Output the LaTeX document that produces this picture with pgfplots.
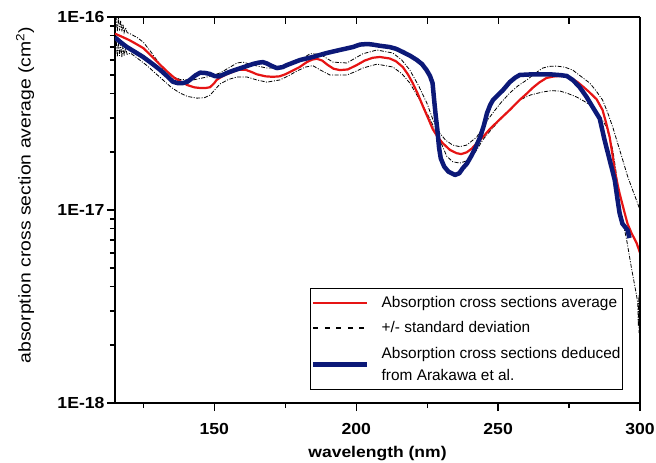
\documentclass[border=0pt]{standalone}
\usepackage{pgfplots}
\pgfplotsset{compat=1.18}
\usepackage{fontspec}
\setmainfont{Liberation Sans}
\newfontfamily\tickfont[FakeStretch=1.1]{Liberation Sans}
\newfontfamily\xlabfont[FakeStretch=1.13]{Liberation Sans}
\newfontfamily\ylabfont[FakeStretch=1.14]{Liberation Sans}
\definecolor{avgred}{RGB}{230,20,20}
\definecolor{arablue}{RGB}{12,25,120}
\begin{document}
\begin{tikzpicture}
\useasboundingbox (-115pt,-60pt) rectangle (541pt,403pt);
\begin{axis}[
  at={(0pt,0pt)}, anchor=south west,
  scale only axis, width=525pt, height=386pt,
  xmin=115, xmax=300, ymode=log, ymin=1e-18, ymax=1e-16,
  axis x line*=bottom, axis y line*=left,
  axis line style={line width=1.6pt},
  tick align=outside,
  major tick length=8pt, minor tick length=5pt,
  every tick/.style={black, line width=1.3pt},
  xtick={150,200,250,300}, xticklabels={150,200,250,300},
  minor xtick={125,175,225,275},
  ytick={1e-18,1e-17,1e-16}, yticklabels={1E-18,1E-17,1E-16},
  minor ytick={2e-18,3e-18,4e-18,5e-18,6e-18,7e-18,8e-18,9e-18,2e-17,3e-17,4e-17,5e-17,6e-17,7e-17,8e-17,9e-17},
  ticklabel style={font=\tickfont\bfseries\fontsize{16}{18}\selectfont},
  xticklabel style={yshift=-9pt},
  yticklabel style={xshift=1pt},
  xlabel={wavelength (nm)},
  ylabel={absorption cross section average (cm\textsuperscript{2})},
  xlabel style={font=\xlabfont\bfseries\fontsize{15.5}{18}\selectfont, at={([yshift=-50pt]axis description cs:0.5,0)}, anchor=center},
  ylabel style={font=\ylabfont\fontsize{17}{20}\selectfont, at={([xshift=-90pt]axis description cs:0,0.539)}, anchor=center},
  legend style={at={(rel axis cs:0.9676,0.0337)}, anchor=south east, draw=black, line width=0.9pt,
    font=\fontsize{15.4}{20}\selectfont, inner xsep=1pt, inner ysep=6pt, row sep=8.5pt,
    nodes={inner xsep=1pt},
    /tikz/every odd column/.style={column sep=11pt}},
  legend cell align=left,
  legend image code/.code={\draw[#1] (0pt,0pt) -- (54pt,0pt);},
]
\addlegendimage{avgred, line width=2.4pt}
\addlegendentry{Absorption cross sections average}
\addlegendimage{black, line width=1.3pt, dash pattern=on 5pt off 6.5pt}
\addlegendentry{+/- standard deviation}
\addlegendimage{arablue, line width=4.5pt}
\addlegendentry[align=left]{Absorption cross sections deduced\\[2pt]from Arakawa et al.}

% upper standard deviation
\addplot[black, line width=0.8pt, dash pattern=on 4pt off 1.5pt on 1pt off 1.5pt, forget plot] coordinates {
(115,9.0e-17)(115.4,1.0e-16)(115.8,8.4e-17)(116.2,9.9e-17)(116.6,8.5e-17)(117,9.6e-17)(117.4,8.4e-17)(117.8,9.2e-17)(118.2,8.3e-17)(118.7,8.8e-17)(119.3,8.3e-17)(120.3,8.2e-17)(123,7.8e-17)(125,7.4e-17)(128,6.5e-17)(131.9,5.4e-17)(135,4.95e-17)(137.9,4.75e-17)(142.5,4.72e-17)(147.4,4.89e-17)(152,5.13e-17)(156,5.55e-17)(158,5.78e-17)(160.1,5.84e-17)(163.6,5.64e-17)(168.5,5.44e-17)(174.2,5.44e-17)(179.1,5.84e-17)(183.7,6.45e-17)(187.2,6.43e-17)(191.8,5.84e-17)(196.7,5.78e-17)(202.3,6.45e-17)(207.3,6.75e-17)(212.9,6.51e-17)(216,6.0e-17)(218.9,5.31e-17)(222,4.4e-17)(224.9,3.58e-17)(227,2.95e-17)(229.4,2.51e-17)(231.5,2.3e-17)(234,2.17e-17)(236.5,2.13e-17)(238.9,2.17e-17)(242.5,2.39e-17)(245,2.75e-17)(248.1,3.18e-17)(251,3.6e-17)(254.1,4.04e-17)(257,4.4e-17)(260.1,4.72e-17)(263,5.1e-17)(265.7,5.44e-17)(268,5.55e-17)(270.6,5.57e-17)(273.5,5.5e-17)(276.3,5.31e-17)(279,4.95e-17)(282.3,4.55e-17)(284.5,4.15e-17)(286.8,3.72e-17)(288.6,3.2e-17)(290.4,2.69e-17)(292.2,2.2e-17)(293.9,1.82e-17)(295.6,1.5e-17)(297.4,1.27e-17)(298.8,1.12e-17)(300,1.0e-17)
};
% lower standard deviation
\addplot[black, line width=0.8pt, dash pattern=on 4pt off 1.5pt on 1pt off 1.5pt, forget plot] coordinates {
(115,6.6e-17)(115.4,7.7e-17)(115.8,6.2e-17)(116.2,7.5e-17)(116.6,6.3e-17)(117,7.3e-17)(117.4,6.2e-17)(117.8,7.1e-17)(118.2,6.3e-17)(118.7,6.9e-17)(119.3,6.4e-17)(120.5,6.5e-17)(123,6.1e-17)(126.3,5.6e-17)(129,5.15e-17)(131.9,4.72e-17)(135,4.3e-17)(137.9,4.04e-17)(140.5,3.88e-17)(143.9,3.80e-17)(146.5,3.82e-17)(148.5,3.94e-17)(150.5,4.25e-17)(152,4.5e-17)(155,4.75e-17)(158,4.89e-17)(161.5,4.89e-17)(165,4.72e-17)(168.5,4.60e-17)(173.1,4.72e-17)(176,4.95e-17)(179.1,5.25e-17)(182,5.5e-17)(184.7,5.6e-17)(187.5,5.3e-17)(190.7,5.01e-17)(196.7,5.01e-17)(199.5,5.2e-17)(202.3,5.44e-17)(207.3,5.7e-17)(212.9,5.51e-17)(216,5.1e-17)(218.9,4.55e-17)(222,3.8e-17)(224.9,3.18e-17)(228.4,2.51e-17)(231.9,1.9e-17)(234,1.78e-17)(236.5,1.75e-17)(240,1.82e-17)(242.5,2.05e-17)(244.6,2.31e-17)(247.5,2.6e-17)(250.6,2.93e-17)(254,3.3e-17)(257.6,3.72e-17)(261.5,3.95e-17)(265.7,4.09e-17)(268.5,4.15e-17)(271.7,4.14e-17)(274.5,4.02e-17)(277.7,3.85e-17)(280.5,3.65e-17)(283.3,3.42e-17)(286,3.05e-17)(288.2,2.69e-17)(290.4,2.05e-17)(291.5,1.6e-17)(292.8,1.05e-17)(295.3,7.0e-18)(297,5.0e-18)(298.8,3.6e-18)(299.2,3.3e-18)(299.4,2.5e-18)(299.55,3.6e-18)(299.7,2.3e-18)(299.85,3.3e-18)(300,2.5e-18)
};
% average
\addplot[avgred, line width=2.2pt, line join=round, forget plot] coordinates {
(115,8.2e-17)(117.5,7.9e-17)(120,7.6e-17)(122.5,7.25e-17)(125,6.9e-17)(128,6.25e-17)(131,5.64e-17)(133.5,5.2e-17)(136,4.83e-17)(138.5,4.6e-17)(140.5,4.44e-17)(143,4.32e-17)(145,4.29e-17)(147,4.29e-17)(148.5,4.33e-17)(150,4.55e-17)(150.8,4.72e-17)(152.5,4.9e-17)(154.3,5.05e-17)(156.5,5.2e-17)(158.5,5.33e-17)(161,5.33e-17)(163,5.2e-17)(165,5.05e-17)(168,4.93e-17)(170.6,4.9e-17)(173,4.93e-17)(175,5.05e-17)(176.6,5.19e-17)(180,5.5e-17)(182.6,5.84e-17)(184.5,6.02e-17)(186.1,6.08e-17)(188,5.95e-17)(190,5.64e-17)(192,5.4e-17)(194.2,5.31e-17)(197,5.35e-17)(200.2,5.64e-17)(203,5.95e-17)(205.8,6.15e-17)(208.3,6.21e-17)(211.8,6.1e-17)(214,5.9e-17)(216.4,5.51e-17)(218.2,5.05e-17)(219.9,4.55e-17)(221.7,4.0e-17)(223.5,3.45e-17)(225.3,3.0e-17)(227,2.62e-17)(228.8,2.38e-17)(230.5,2.22e-17)(233,2.05e-17)(235.4,1.97e-17)(237,1.95e-17)(238.9,1.99e-17)(240.7,2.08e-17)(242.5,2.22e-17)(245,2.42e-17)(247,2.62e-17)(250.6,2.95e-17)(254.1,3.3e-17)(257.6,3.72e-17)(260,4.0e-17)(262.2,4.3e-17)(264.5,4.58e-17)(267,4.83e-17)(269.5,4.92e-17)(271.7,4.95e-17)(273.5,4.94e-17)(276,4.8e-17)(278,4.6e-17)(280,4.35e-17)(282,4.1e-17)(284.7,3.75e-17)(286.8,3.3e-17)(288,2.85e-17)(289.3,2.39e-17)(290.2,1.98e-17)(291.1,1.61e-17)(292,1.38e-17)(292.8,1.22e-17)(294.6,9.65e-18)(295.6,8.5e-18)(297,7.6e-18)(298.8,6.75e-18)(300,6.0e-18)
};
% Arakawa
\addplot[arablue, line width=4.5pt, line join=round, forget plot] coordinates {
(115,7.85e-17)(117,7.4e-17)(119.2,6.99e-17)(122,6.6e-17)(124.9,6.21e-17)(128,5.75e-17)(131,5.31e-17)(133.3,4.95e-17)(135.4,4.62e-17)(137,4.55e-17)(139,4.55e-17)(140.5,4.62e-17)(141.6,4.75e-17)(143.3,4.98e-17)(145,5.15e-17)(146.8,5.13e-17)(148.5,5.07e-17)(150,4.95e-17)(151.5,4.92e-17)(153,5.02e-17)(154.4,5.13e-17)(157,5.3e-17)(160,5.48e-17)(163.6,5.71e-17)(165.5,5.8e-17)(167.1,5.84e-17)(168.5,5.75e-17)(170,5.6e-17)(172,5.44e-17)(174,5.5e-17)(175.6,5.64e-17)(178,5.82e-17)(180.2,5.99e-17)(184.7,6.21e-17)(189.6,6.51e-17)(194.2,6.75e-17)(198.8,6.99e-17)(201.3,7.2e-17)(204,7.25e-17)(205.8,7.2e-17)(208.3,7.1e-17)(211.8,6.99e-17)(214,6.85e-17)(216.4,6.59e-17)(219,6.3e-17)(221.3,6.0e-17)(223.2,5.7e-17)(224.8,5.31e-17)(226,4.95e-17)(226.9,4.55e-17)(227.4,3.8e-17)(228,3.1e-17)(228.6,2.6e-17)(229.2,2.1e-17)(229.8,1.85e-17)(231,1.68e-17)(232.5,1.58e-17)(234.8,1.52e-17)(236.3,1.55e-17)(237.6,1.65e-17)(239,1.74e-17)(240.5,1.9e-17)(242,2.1e-17)(243.7,2.39e-17)(245,2.75e-17)(246.1,3.18e-17)(247.2,3.5e-17)(248.2,3.72e-17)(250,3.95e-17)(251.7,4.18e-17)(254.1,4.6e-17)(256,4.85e-17)(257.6,5.01e-17)(262.2,5.05e-17)(268.2,5.05e-17)(272,5.0e-17)(274.2,4.95e-17)(276.3,4.72e-17)(278.7,4.34e-17)(281.2,3.85e-17)(283.3,3.42e-17)(285.8,2.98e-17)(287.5,2.31e-17)(289.3,1.82e-17)(291.1,1.43e-17)(292.1,1.13e-17)(292.8,9.65e-18)(293.8,8.5e-18)(295.6,7.88e-18)(296.3,7.16e-18)
};
\end{axis}
\begin{axis}[
  at={(0pt,0pt)}, anchor=south west,
  scale only axis, width=525pt, height=386pt,
  xmin=115, xmax=300, ymode=log, ymin=1e-18, ymax=1e-16,
  axis x line*=top, axis y line*=right,
  axis line style={line width=1.6pt},
  tick align=inside,
  major tick length=7pt, minor tick length=4.5pt,
  every tick/.style={black, line width=1.2pt},
  xtick={125,150,175,200,225,250,275}, xticklabels={},
  ytick=\empty, yticklabels={},
  minor ytick={2e-18,3e-18,4e-18,5e-18,6e-18,7e-18,8e-18,9e-18,1e-17,2e-17,3e-17,4e-17,5e-17,6e-17,7e-17,8e-17,9e-17},
]
\end{axis}
\end{tikzpicture}
\end{document}
